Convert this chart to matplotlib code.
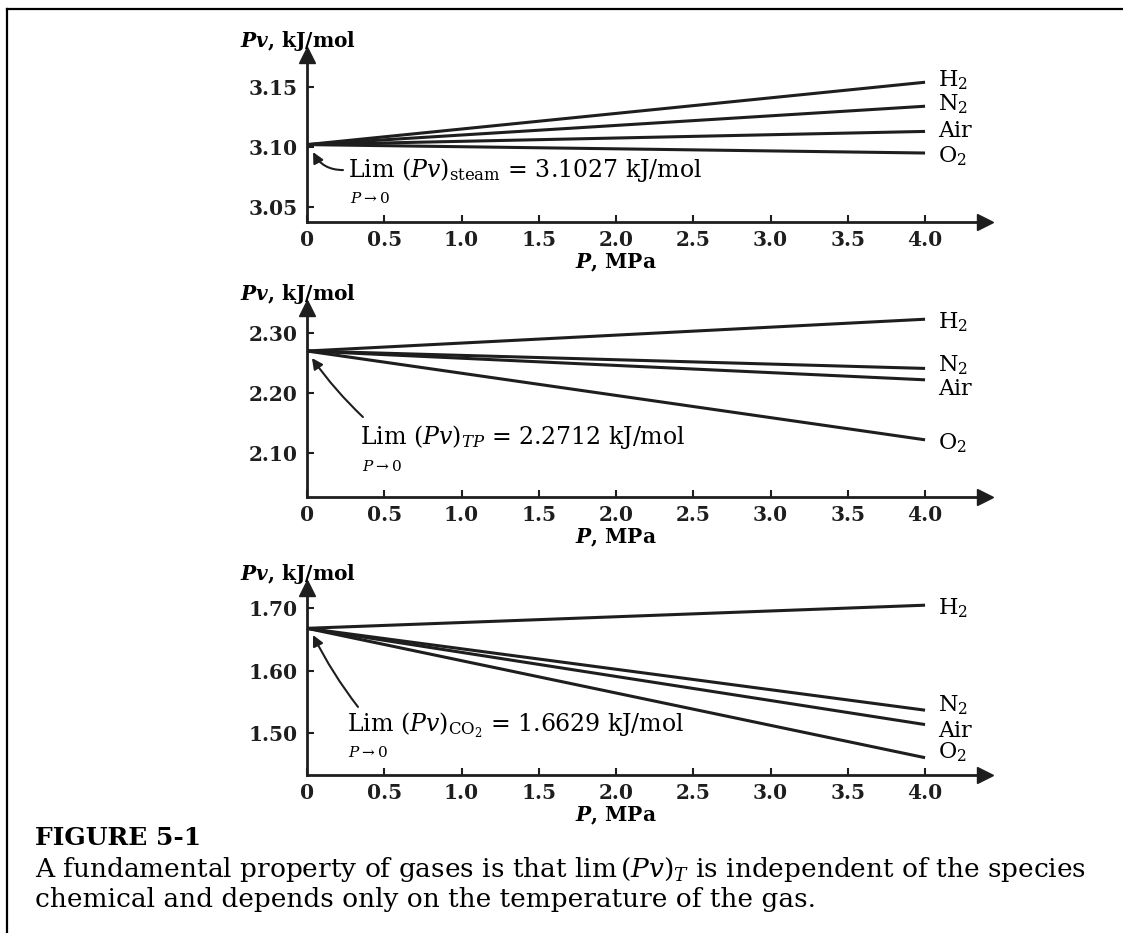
import matplotlib
matplotlib.use('Agg')
import matplotlib.pyplot as plt
from matplotlib.lines import Line2D

plt.rcParams['font.family'] = 'DejaVu Serif'
plt.rcParams['mathtext.fontset'] = 'dejavuserif'

# --- Data (Pv in kJ/mol at P = 0 and P = 4.0 MPa) ---
pressure = [0.0, 4.0]
gases = ['H$_2$', 'N$_2$', 'Air', 'O$_2$']

steam_start = 3.102
steam_end = [3.154, 3.134, 3.113, 3.095]

tp_start = 2.270
tp_end = [2.323, 2.241, 2.222, 2.122]

co2_start = 1.668
co2_end = [1.705, 1.537, 1.514, 1.461]

x_ticks = [0, 0.5, 1.0, 1.5, 2.0, 2.5, 3.0, 3.5, 4.0]
x_tick_labels = ['0', '0.5', '1.0', '1.5', '2.0', '2.5', '3.0', '3.5', '4.0']

steam_yticks = [3.05, 3.10, 3.15]
tp_yticks = [2.10, 2.20, 2.30]
co2_yticks = [1.50, 1.60, 1.70]

W, H = 1123, 933
fig = plt.figure(figsize=(W / 100, H / 100), dpi=100)

LINE_COLOR = '#1e1e1e'


def make_axes(left, top, right, bottom):
    # box given in pixel coordinates of the figure
    return fig.add_axes([left / W, 1 - bottom / H, (right - left) / W, (bottom - top) / H])


def draw_panel(ax, start, ends, ylim, yticks, label_dy, limit_text, head, tail, text_xy, p0_xy, rad):
    ax.set_xlim(0, 4.388)
    ax.set_ylim(*ylim)

    for sp in ['top', 'right']:
        ax.spines[sp].set_visible(False)
    for sp in ['left', 'bottom']:
        ax.spines[sp].set_linewidth(2)
        ax.spines[sp].set_color(LINE_COLOR)

    # arrow heads at the end of each axis
    ax.plot(1, 0, '>', color=LINE_COLOR, ms=11, transform=ax.transAxes, clip_on=False)
    ax.plot(0, 1, '^', color=LINE_COLOR, ms=11, transform=ax.transAxes, clip_on=False)

    ax.set_xticks(x_ticks)
    ax.set_xticklabels(x_tick_labels, fontweight='bold')
    ax.set_yticks(yticks)
    ax.set_yticklabels(['%.2f' % v for v in yticks], fontweight='bold')
    ax.tick_params(direction='in', length=5, width=1.5, labelsize=14.5, pad=7, colors=LINE_COLOR)
    ax.tick_params(axis='x', pad=6)

    for name, end, dy in zip(gases, ends, label_dy):
        ax.plot(pressure, [start, end], color=LINE_COLOR, lw=2.2, clip_on=False,
                solid_capstyle='butt')
        ax.annotate(name, xy=(pressure[-1], end), xytext=(13, dy), textcoords='offset pixels',
                    va='center', ha='left', fontsize=16)

    # limit annotation
    ax.annotate('', xy=head, xytext=tail,
                arrowprops=dict(arrowstyle='-|>', color=LINE_COLOR, lw=1.5, mutation_scale=16,
                                shrinkA=0, shrinkB=0, connectionstyle='arc3,rad=%s' % rad))
    ax.text(text_xy[0], text_xy[1], limit_text, fontsize=17, va='center', ha='left')
    ax.text(p0_xy[0], p0_xy[1], r'$P \rightarrow 0$', fontsize=11, va='center', ha='left')

    # axis titles
    ax.annotate(r'$\mathbfit{Pv}$, kJ/mol', xy=(0, 1), xycoords='axes fraction',
                xytext=(-67, 14), textcoords='offset pixels', va='center', ha='left',
                fontsize=14.5, fontweight='bold')
    ax.annotate(r'$\mathbfit{P}$, MPa', xy=(2.0, 0), xycoords=('data', 'axes fraction'),
                xytext=(0, -41), textcoords='offset pixels', va='center', ha='center',
                fontsize=14.5, fontweight='bold')


ax1 = make_axes(307, 55, 985, 222)
draw_panel(ax1, steam_start, steam_end, (3.0375, 3.1767), steam_yticks,
           [2, 2, 0, -3],
           r'Lim $(Pv)_{\rm steam}$ = 3.1027 kJ/mol',
           head=(0.039, 3.0958), tail=(0.233, 3.0808),
           text_xy=(0.265, 3.081), p0_xy=(0.278, 3.0567), rad=-0.3)

ax2 = make_axes(307, 308, 985, 497)
draw_panel(ax2, tp_start, tp_end, (2.0267, 2.3417), tp_yticks,
           [-3, 3, -9, -3],
           r'Lim $(Pv)_{TP}$ = 2.2712 kJ/mol',
           head=(0.032, 2.2583), tail=(0.362, 2.16),
           text_xy=(0.343, 2.1267), p0_xy=(0.356, 2.0783), rad=-0.05)

ax3 = make_axes(307, 588, 985, 775)
draw_panel(ax3, co2_start, co2_end, (1.4333, 1.7325), co2_yticks,
           [-3, 5, -6, 5],
           r'Lim $(Pv)_{\rm CO_2}$ = 1.6629 kJ/mol',
           head=(0.039, 1.6573), tail=(0.33, 1.5422),
           text_xy=(0.259, 1.5134), p0_xy=(0.265, 1.4686), rad=-0.05)

# caption
fig.text(35 / W, 1 - 838 / H, 'FIGURE 5-1', fontsize=18, fontweight='bold', va='center')
fig.text(35 / W, 1 - 870 / H,
         r'A fundamental property of gases is that lim$\,(Pv)_T$ is independent of the species',
         fontsize=19, va='center')
fig.text(35 / W, 1 - 899 / H, 'chemical and depends only on the temperature of the gas.',
         fontsize=19, va='center')

# page frame (top and left edges)
fig.add_artist(Line2D([7 / W, 7 / W], [0, 1 - 9 / H], transform=fig.transFigure,
                      color='black', lw=1.6))
fig.add_artist(Line2D([7 / W, 1], [1 - 9 / H, 1 - 9 / H], transform=fig.transFigure,
                      color='black', lw=1.6))

fig.savefig('out.png', dpi=100)
